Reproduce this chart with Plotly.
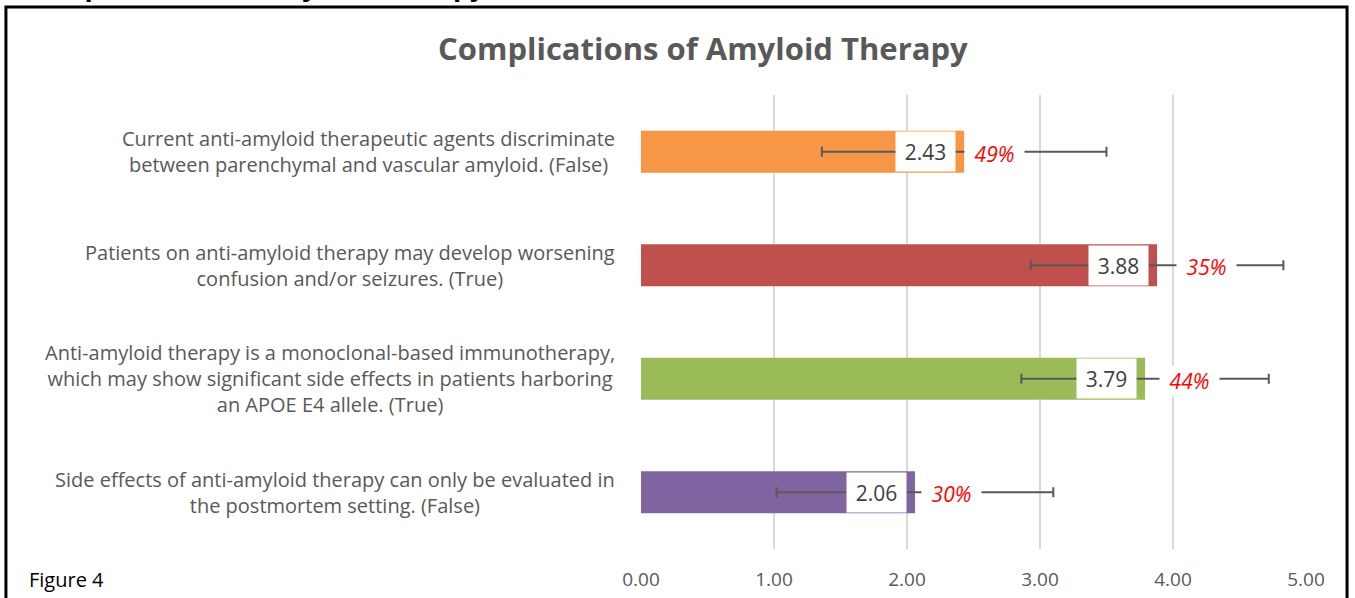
"""Complications of Amyloid Therapy: mean score per statement with SD and % correct."""

import plotly.graph_objects as go

statements = [
    "Current anti-amyloid therapeutic agents discriminate<br>between parenchymal and vascular amyloid. (False)",
    "Patients on anti-amyloid therapy may develop worsening<br>confusion and/or seizures. (True)",
    "Anti-amyloid therapy is a monoclonal-based immunotherapy,<br>which may show significant side effects in patients harboring<br>an APOE E4 allele. (True)",
    "Side effects of anti-amyloid therapy can only be evaluated in<br>the postmortem setting. (False)",
]
mean_scores = [2.43, 3.88, 3.79, 2.06]
std_devs = [1.07, 0.95, 0.93, 1.04]
pct_correct = ["49%", "35%", "44%", "30%"]
x_ticks = [0, 1, 2, 3, 4, 5]

bar_colors = ["#F79646", "#C0504D", "#9BBB59", "#8064A2"]
pct_gap = [0, 19, 14, 6]  # pixel gap between bar end and the % box

FONT = "Open Sans, Lato, sans-serif"
GREY = "#595959"

fig = go.Figure(
    go.Bar(
        x=mean_scores,
        y=list(range(len(statements))),
        orientation="h",
        width=0.37,
        marker=dict(color=bar_colors, line=dict(width=0)),
        error_x=dict(type="data", array=std_devs, color=GREY, thickness=2, width=5),
        hoverinfo="skip",
    )
)

annotations = []
for i, (text, val, pct) in enumerate(zip(statements, mean_scores, pct_correct)):
    annotations.append(dict(
        x=0, xref="paper", y=i, yref="y", xanchor="right", xshift=-24,
        text=text, showarrow=False, align="center",
        font=dict(family=FONT, size=20, color=GREY),
    ))
    annotations.append(dict(
        x=val, y=i, xanchor="right", xshift=-8, text=f"{val:.2f}", showarrow=False,
        bgcolor="white", width=57, height=37, borderpad=1,
        font=dict(family=FONT, size=21, color="#404040"),
    ))
    annotations.append(dict(
        x=val, y=i, xanchor="left", xshift=pct_gap[i], yshift=-2, text=f"<i>{pct}</i>",
        showarrow=False, bgcolor="white", width=57, borderpad=1,
        font=dict(family=FONT, size=21, color="#FF0000"),
    ))

annotations += [
    dict(x=0.093, xref="paper", xanchor="center", y=1.0, yref="paper", yanchor="bottom",
         yshift=24, text="<b>Complications of Amyloid Therapy</b>", showarrow=False,
         font=dict(family=FONT, size=31, color=GREY)),
    dict(x=-0.58, xref="paper", xanchor="center", y=1.0, yref="paper", yanchor="bottom",
         yshift=89, text="<b>Complications of Amyloid Therapy</b>", showarrow=False,
         font=dict(family=FONT, size=27, color="black")),
    dict(x=-0.923, xref="paper", y=0, yref="paper", xanchor="left", yanchor="top",
         yshift=-15, text="Figure 4", showarrow=False,
         font=dict(family=FONT, size=20, color="black")),
]

fig.update_layout(
    width=1355,
    height=598,
    margin=dict(l=641, r=49, t=95, b=49),
    paper_bgcolor="white",
    plot_bgcolor="white",
    showlegend=False,
    annotations=annotations,
    shapes=[dict(type="rect", xref="paper", yref="paper",
                 x0=-0.955, x1=1.0617, y0=-0.3, y1=1.194,
                 line=dict(color="black", width=3))],
    xaxis=dict(
        range=[0, 5], tickvals=x_ticks, tickformat=".2f", automargin=False,
        showgrid=True, gridcolor="#D9D9D9", gridwidth=2, zeroline=False,
        showline=False, ticks="outside", ticklen=13, tickcolor="rgba(0,0,0,0)",
        tickfont=dict(family=FONT, size=19, color=GREY), fixedrange=True,
    ),
    yaxis=dict(
        range=[3.5, -0.5], showticklabels=False, showgrid=False, automargin=False,
        zeroline=False, showline=False, fixedrange=True,
    ),
)

fig.write_html("out.html", config={"displayModeBar": False},
               post_script="document.body.style.margin='0';")
